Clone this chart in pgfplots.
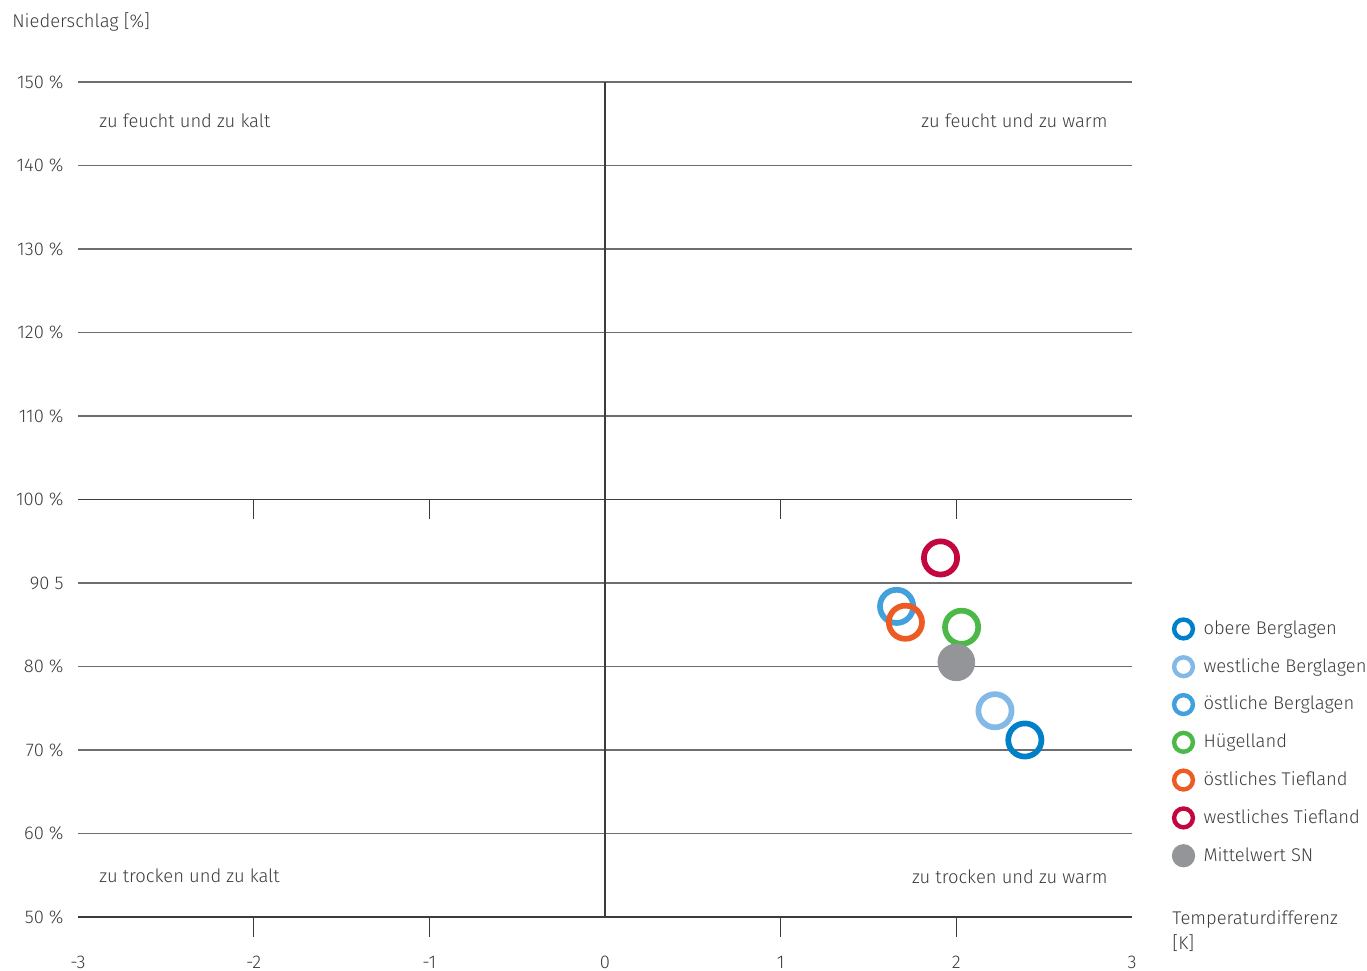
\documentclass[border=0pt]{standalone}
\usepackage{fontspec}
\setmainfont{Fira Sans}[UprightFont=* Light]
\usepackage{pgfplots}
\pgfplotsset{compat=1.18}

\definecolor{obere}{HTML}{0080C8}
\definecolor{westberg}{HTML}{82B9E6}
\definecolor{ostberg}{HTML}{42A0DC}
\definecolor{huegel}{HTML}{4CB848}
\definecolor{osttief}{HTML}{EE5A24}
\definecolor{westtief}{HTML}{C3063D}
\definecolor{mittel}{HTML}{939598}
\definecolor{gridcol}{HTML}{6D6E71}
\definecolor{textcol}{HTML}{3C3C3B}

\newcommand{\lbl}{\fontsize{9.2bp}{12.5bp}\selectfont}

\begin{document}
\begin{tikzpicture}
\begin{axis}[
  at={(0,0)}, anchor=south west,
  scale only axis, width=527bp, height=417.5bp,
  xmin=-3, xmax=3, ymin=50, ymax=150,
  clip=false,
  axis line style={draw=none},
  major tick length=0pt,
  xtick={-3,-2,-1,0,1,2,3},
  xticklabels={-3,-2,-1,0,1,2,3},
  ytick={50,60,70,80,90,100,110,120,130,140,150},
  yticklabels={50 \%,60 \%,70 \%,80 \%,90 5,100 \%,110 \%,120 \%,130 \%,140 \%,150 \%},
  xticklabel style={anchor=center, yshift=-22.5bp},
  yticklabel style={anchor=east, inner sep=0pt, xshift=-7bp},
  tick label style={font=\lbl, text=textcol},
  /pgf/number format/assume math mode=true,
  ymajorgrids,
  grid style={draw=gridcol, line width=0.75bp},
  legend cell align=left,
  legend style={draw=none, fill=none, at={(1.039,0.359)}, anchor=north west,
    font=\lbl, text=textcol, row sep=7.5bp, inner sep=0pt,
    nodes={inner sep=1.5bp}},
  legend image code/.code={\path[draw=none] (0bp,0bp) -- (13.5bp,0bp);
    \draw[#1, mark size=4.7bp, line width=2.2bp] plot coordinates {(5bp,0bp)};},
]

\addplot[only marks, mark=o, mark size=8.3bp, line width=2.85bp, color=obere]
  coordinates {(2.39,71.2)};
\addplot[only marks, mark=o, mark size=8.3bp, line width=2.85bp, color=westberg]
  coordinates {(2.22,74.7)};
\addplot[only marks, mark=o, mark size=8.3bp, line width=2.85bp, color=ostberg]
  coordinates {(1.66,87.2)};
\addplot[only marks, mark=o, mark size=8.3bp, line width=2.85bp, color=huegel]
  coordinates {(2.03,84.7)};
\addplot[only marks, mark=o, mark size=8.3bp, line width=2.85bp, color=osttief]
  coordinates {(1.71,85.3)};
\addplot[only marks, mark=o, mark size=8.3bp, line width=2.85bp, color=westtief]
  coordinates {(1.91,93.0)};
\addplot[only marks, mark=*, mark size=9.2bp, color=mittel, mark options={draw=none}]
  coordinates {(2.00,80.5)};

\legend{obere Berglagen,westliche Berglagen,östliche Berglagen,Hügelland,östliches Tiefland,westliches Tiefland,Mittelwert SN}

% axes, zero line and ticks
\draw[textcol, line width=1bp] (axis cs:-3,50) -- (axis cs:3,50);
\draw[textcol, line width=0.8bp] (axis cs:0,50) -- (axis cs:0,150);
\draw[textcol, line width=0.8bp] (axis cs:-3,100) -- (axis cs:3,100);
\pgfplotsinvokeforeach{-2,-1,1,2}{
  \draw[textcol, line width=0.8bp] (axis cs:#1,100) -- ([yshift=-10bp]axis cs:#1,100);
  \draw[textcol, line width=0.8bp] (axis cs:#1,50) -- ([yshift=-10bp]axis cs:#1,50);
}

% quadrant labels
\node[anchor=west, inner sep=0pt, font=\lbl, text=textcol] at (axis cs:-2.88,145.3) {zu feucht und zu kalt};
\node[anchor=east, inner sep=0pt, font=\lbl, text=textcol] at (axis cs:2.863,145.3) {zu feucht und zu warm};
\node[anchor=west, inner sep=0pt, font=\lbl, text=textcol] at (axis cs:-2.88,54.9) {zu trocken und zu kalt};
\node[anchor=east, inner sep=0pt, font=\lbl, text=textcol] at (axis cs:2.863,54.8) {zu trocken und zu warm};

% axis titles
\node[anchor=west, inner sep=0pt, font=\lbl, text=textcol] at (axis cs:-3.376,157.2) {Niederschlag [\%]};
\node[anchor=north west, inner sep=0pt, align=left, font=\lbl, text=textcol] at (axis cs:3.228,50.8) {Temperaturdifferenz\\{}[K]};
\end{axis}
\pgfresetboundingbox
\path (-39bp,-27bp) rectangle (644.5bp,458.5bp);
\end{tikzpicture}
\end{document}
